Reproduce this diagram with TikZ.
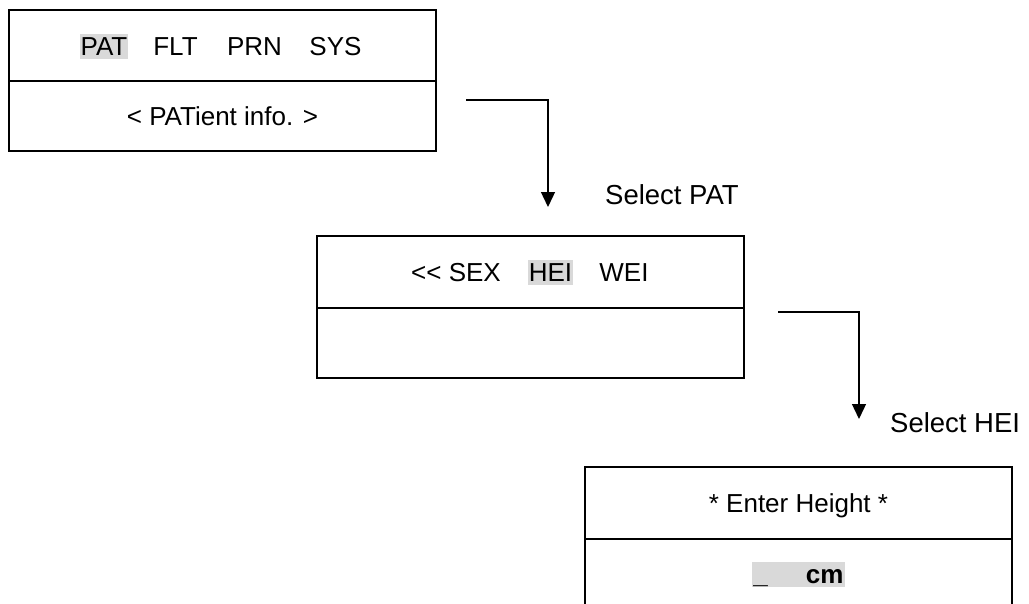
\documentclass[tikz,border=0pt]{standalone}
\usepackage{fontspec}
\setmainfont{Liberation Sans}[Ligatures=NoCommon]
\usetikzlibrary{arrows.meta}
\definecolor{hl}{gray}{0.85}
\begin{document}
\begin{tikzpicture}[x=1pt,y=-1pt,
  cell/.style={draw, line width=2pt, inner sep=0pt, minimum width=427pt},
  boxtext/.style={font=\fontsize{26}{30}\selectfont, inner sep=0pt, anchor=base},
  hltext/.style={boxtext, fill=hl, inner xsep=1pt, inner ysep=0pt, text height=21pt, text depth=4pt},
  conn/.style={line width=1.3pt, -{Triangle[width=14pt,length=15pt]}},
  seltext/.style={font=\fontsize{27.5}{32}\selectfont, inner sep=0pt, anchor=base west}]
\useasboundingbox (0,0) rectangle (1029,603);
\clip (0,0) rectangle (1029,603);
% box 1
\node[cell, minimum height=71pt] (b1t) at (222.5,45.5) {};
\node[cell, minimum height=70pt] (b1b) at (222.5,116) {};
\node[hltext] (pat) at (104,55) {PAT};
\node[boxtext] (flt) at (175.5,55) {FLT};
\node[boxtext] (prn) at (254.5,55) {PRN};
\node[boxtext] (sys) at (335.5,55) {SYS};
\node[boxtext] (info) at (222.5,125) {< PATient info. >};
% box 2
\node[cell, minimum height=72pt] (b2t) at (530,272) {};
\node[cell, minimum height=70pt] (b2b) at (530,343) {};
\node[boxtext, anchor=base west] (sex) at (411,281) {<\kern0pt< SEX};
\node[hltext] (hei) at (550.5,281) {HEI};
\node[boxtext] (wei) at (624,281) {WEI};
% box 3
\node[cell, minimum height=72pt] (b3t) at (798.5,503) {};
\node[cell, minimum height=70pt] (b3b) at (798.5,574) {};
\node[boxtext] (enter) at (798.5,512) {* Enter Height *};
\node[hltext, font=\fontsize{26}{30}\selectfont\bfseries] (cm) at (798.5,583) {\_\hspace{38pt}cm};
% connectors
\coordinate (s1) at (466,100);
\coordinate (e1) at (548,207);
\draw[conn] (s1) -| (e1);
\node[seltext] (sel1) at (605,204) {Select PAT};
\coordinate (s2) at (778,312);
\coordinate (e2) at (859,419);
\draw[conn] (s2) -| (e2);
\node[seltext] (sel2) at (890,432) {Select HEI};
\end{tikzpicture}
\end{document}
